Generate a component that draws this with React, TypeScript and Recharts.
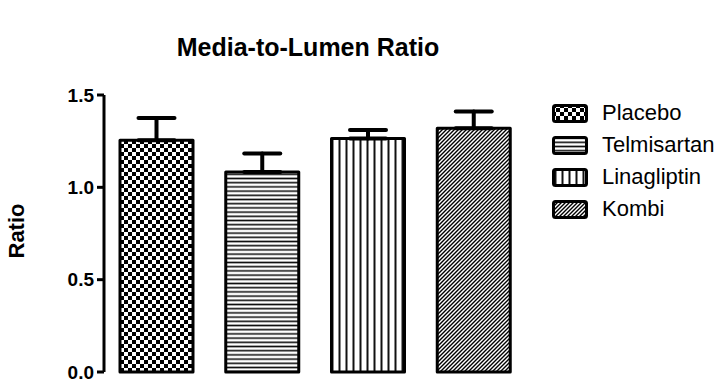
import { BarChart, Bar, XAxis, YAxis, ErrorBar, Cell } from 'recharts';

const groups = ['Placebo', 'Telmisartan', 'Linagliptin', 'Kombi'];
const means = [1.255, 1.083, 1.265, 1.32];
const sems = [0.12, 0.1, 0.045, 0.09];
const yTicks = [0, 0.5, 1.0, 1.5];
const patternIds = ['checker', 'hlines', 'vlines', 'diag'];

// asymmetric error: only the upper whisker is drawn
const data = groups.map((group, i) => ({ group, mean: means[i], err: [0, sems[i]] }));

const FONT = '"Liberation Sans", Arial, Helvetica, sans-serif';

function PatternDefs({ suffix = '' }: { suffix?: string }) {
  return (
    <defs>
      <pattern id={`checker${suffix}`} width="8" height="8" patternUnits="userSpaceOnUse">
        <rect width="8" height="8" fill="#fff" />
        <rect width="4" height="4" fill="#000" />
        <rect x="4" y="4" width="4" height="4" fill="#000" />
      </pattern>
      <pattern id={`hlines${suffix}`} width="8" height="4.2" patternUnits="userSpaceOnUse">
        <rect width="8" height="4.2" fill="#fff" />
        <rect y="1.3" width="8" height="1.6" fill="#111" />
      </pattern>
      <pattern id={`vlines${suffix}`} width="7" height="8" patternUnits="userSpaceOnUse">
        <rect width="7" height="8" fill="#fff" />
        <rect x="2.5" width="2" height="8" fill="#111" />
      </pattern>
      <pattern id={`diag${suffix}`} width="4" height="4" patternUnits="userSpaceOnUse">
        <rect width="4" height="4" fill="#fff" />
        <path d="M-1,1 l2,-2 M0,4 l4,-4 M3,5 l2,-2" stroke="#000" strokeWidth="1.4" />
      </pattern>
    </defs>
  );
}

// legend sits to the right of the plot, outside the chart's layout
const GroupLegend = () => (
  <div
    style={{
      position: 'absolute',
      left: 552,
      top: 97,
      fontFamily: FONT,
      fontSize: 22,
      color: '#000',
    }}
  >
    {groups.map((g, i) => (
      <div key={g} style={{ display: 'flex', alignItems: 'center', height: 32 }}>
        <svg width={36} height={19} style={{ marginRight: 14 }}>
          <PatternDefs suffix={`-lg${i}`} />
          <rect
            x={1.5}
            y={1.5}
            width={33}
            height={16}
            rx={2}
            fill={`url(#${patternIds[i]}-lg${i})`}
            stroke="#000"
            strokeWidth={3}
          />
        </svg>
        <span style={{ lineHeight: '32px' }}>{g}</span>
      </div>
    ))}
  </div>
);

export default function App() {
  return (
    <div style={{ position: 'absolute', left: 0, top: 0, width: 722, height: 379, background: '#fff' }}>
      <BarChart
        width={722}
        height={379}
        data={data}
        margin={{ top: 95, right: 195, bottom: 7, left: 0 }}
      >
        <PatternDefs />
        <XAxis
          dataKey="group"
          tick={false}
          tickLine={false}
          height={0}
          axisLine={{ stroke: '#000', strokeWidth: 3 }}
        />
        <YAxis
          width={104}
          domain={[0, 1.5]}
          ticks={yTicks}
          interval={0}
          tickFormatter={(v: number) => v.toFixed(1)}
          tickSize={7}
          tickMargin={3}
          axisLine={{ stroke: '#000', strokeWidth: 3 }}
          tickLine={{ stroke: '#000', strokeWidth: 3 }}
          tick={{ fill: '#000', fontSize: 19, fontWeight: 'bold', fontFamily: FONT }}
        />
        <Bar
          dataKey="mean"
          barSize={73}
          stroke="#000"
          strokeWidth={3}
          strokeLinejoin="round"
          isAnimationActive={false}
        >
          {data.map((d, i) => (
            <Cell key={d.group} fill={`url(#${patternIds[i]})`} />
          ))}
          <ErrorBar
            dataKey="err"
            direction="y"
            width={18}
            stroke="#000"
            strokeWidth={4}
            strokeLinecap="round"
            isAnimationActive={false}
          />
        </Bar>
      </BarChart>
      <GroupLegend />
      <svg
        width={722}
        height={379}
        style={{ position: 'absolute', left: 0, top: 0, pointerEvents: 'none' }}
      >
        <text
          x={308}
          y={56}
          textAnchor="middle"
          fontFamily={FONT}
          fontWeight="bold"
          fontSize={25}
          fill="#000"
        >
          Media-to-Lumen Ratio
        </text>
        <text
          x={24}
          y={231}
          textAnchor="middle"
          transform="rotate(-90 24 231)"
          fontFamily={FONT}
          fontWeight="bold"
          fontSize={22}
          fill="#000"
        >
          Ratio
        </text>
      </svg>
    </div>
  );
}
